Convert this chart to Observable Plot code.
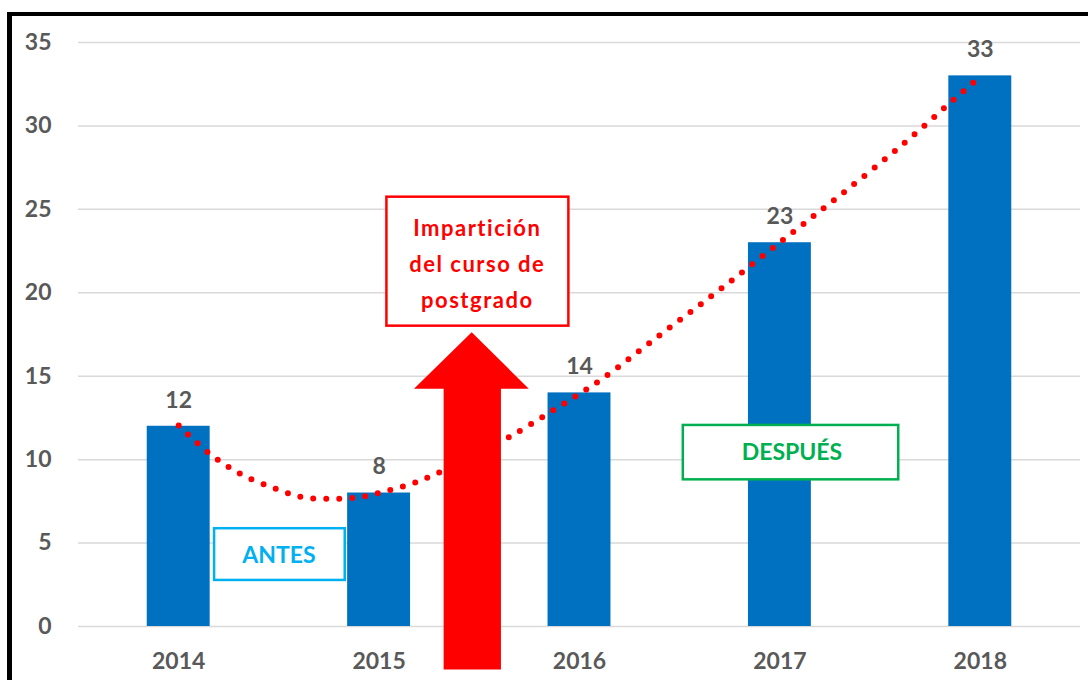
<!DOCTYPE html>
<html>
<head>
<meta charset="utf-8">
<script src="https://cdn.jsdelivr.net/npm/d3@7"></script>
<script src="https://cdn.jsdelivr.net/npm/@observablehq/plot@0.6"></script>
<style>
  html, body { margin: 0; padding: 0; background: #fff; overflow: hidden; }
  #wrap { position: relative; width: 1088px; height: 680px; }
  #frame { position: absolute; left: 7px; top: 12px; width: 1200px; height: 800px;
           border-top: 4px solid #000; border-left: 5px solid #000; pointer-events: none; }
  g[fill="#FF0000"] text { letter-spacing: 1.5px; }
</style>
</head>
<body>
<div id="wrap"><div id="frame"></div></div>
<script>
// Bar data
const years = [2014, 2015, 2016, 2017, 2018];
const values = [12, 8, 14, 23, 33];
const yTicks = [0, 5, 10, 15, 20, 25, 30, 35];

// Dotted trend curve
const trendYears = [2014.00, 2014.155, 2014.317, 2014.49, 2014.619, 2014.764, 2014.906, 2015.038, 2015.171, 2015.297, 2015.47, 2015.649, 2015.873, 2016.098, 2016.409, 2016.721, 2017.037, 2017.299, 2017.613, 2017.867, 2017.967, 2018.0];
const trendValues = [12.05, 10.35, 9.09, 8.23, 7.75, 7.65, 7.75, 8.13, 8.59, 9.21, 10.2, 11.35, 12.99, 14.72, 17.54, 20.38, 23.37, 25.83, 28.89, 31.57, 32.62, 32.95];

// Annotation: red block arrow (year, value)
const arrowYears = [2015.322, 2015.322, 2015.174, 2015.462, 2015.747, 2015.608, 2015.608];
const arrowValues = [-2.58, 14.25, 14.25, 17.64, 14.25, 14.25, -2.58];

// Annotation boxes
const boxLabels = ["Impartición\ndel curso de\npostgrado", "ANTES", "DESPUÉS"];
const boxX1 = [2015.039, 2014.179, 2016.518];
const boxX2 = [2015.947, 2014.831, 2017.593];
const boxY1 = [18.0, 2.76, 8.79];
const boxY2 = [25.73, 5.86, 12.05];
const boxTextX = [2015.49, 2014.5, 2017.06];
const boxTextY = [21.95, 4.25, 10.45];
const boxColors = ["#FF0000", "#00B0F0", "#00B050"];

const bars = years.map((year, i) => ({year, value: values[i]}));
const trend = trendYears.map((x, i) => ({x, y: trendValues[i]}));
const arrow = arrowYears.map((x, i) => ({x, y: arrowValues[i]}));
const boxes = boxLabels.map((label, i) => ({
  label, x1: boxX1[i], x2: boxX2[i], y1: boxY1[i], y2: boxY2[i],
  tx: boxTextX[i], ty: boxTextY[i], color: boxColors[i]
}));

const halfBar = 0.157;
const textGray = "#595959";

const chart = Plot.plot({
  width: 1088,
  height: 680,
  marginLeft: 78,
  marginRight: 8,
  marginTop: 42,
  marginBottom: 54,
  style: {fontFamily: "Lato, 'Open Sans', sans-serif", fontWeight: "bold", color: textGray, background: "transparent"},
  x: {type: "linear", domain: [2013.5, 2018.5]},
  y: {domain: [0, 35]},
  marks: [
    Plot.ruleY(yTicks, {stroke: "#D9D9D9", strokeWidth: 1.5}),
    Plot.rectY(bars, {x1: d => d.year - halfBar, x2: d => d.year + halfBar, y: "value", fill: "#0070C0"}),
    Plot.line(trend, {x: "x", y: "y", curve: "catmull-rom", stroke: "#FF0000", strokeWidth: 6,
      strokeDasharray: "0 13", strokeLinecap: "round"}),
    Plot.line(arrow, {x: "x", y: "y", fill: "#FF0000", stroke: "none", curve: "linear"}),
    Plot.rect(boxes, {x1: "x1", x2: "x2", y1: "y1", y2: "y2", fill: "white", stroke: "color", strokeWidth: 2.5}),
    Plot.text(boxes.slice(0, 1), {x: "tx", y: "ty", text: "label", fill: "#FF0000", fontSize: 22, fontWeight: "bold", lineHeight: 1.64}),
    Plot.text(boxes.slice(1), {x: "tx", y: "ty", text: "label", fill: "color", fontSize: 23, fontWeight: "bold"}),
    Plot.text(bars, {x: "year", y: "value", text: d => String(d.value), dy: -26, fill: textGray, fontSize: 23, fontWeight: "bold"}),
    Plot.axisY({ticks: yTicks, tickSize: 0, tickPadding: 27, fontSize: 23, label: null}),
    Plot.axisX({ticks: years, tickFormat: "d", tickSize: 0, tickPadding: 26, fontSize: 23, label: null})
  ]
});
chart.style.position = "absolute";
chart.style.left = "0px";
chart.style.top = "0px";
document.getElementById("wrap").prepend(chart);
</script>
</body>
</html>
